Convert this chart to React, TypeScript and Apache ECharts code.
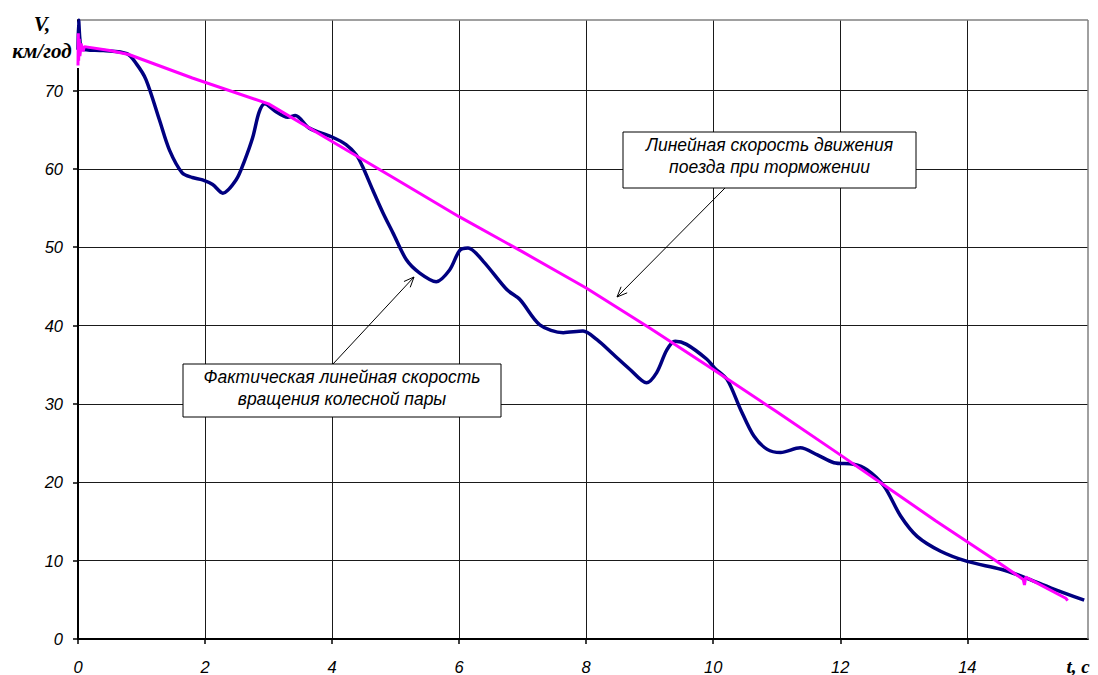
import React, { useEffect, useRef } from "react";
import * as echarts from "echarts";

const xMax = 15.9;
const yMax = 79;
const xTickValues = [0, 2, 4, 6, 8, 10, 12, 14];
const yTickValues = [0, 10, 20, 30, 40, 50, 60, 70];

// Actual linear speed of wheel set rotation (t, V)
const wheelSpeed: [number, number][] = [
  [0, 75.2], [0.01, 79], [0.03, 76.5], [0.06, 75.3], [0.4, 75.1], [0.77, 74.7],
  [0.92, 73.4], [1.07, 71.4], [1.28, 66.3], [1.44, 62.4], [1.64, 59.5], [1.8, 58.9],
  [1.96, 58.6], [2.12, 58.0], [2.28, 56.9], [2.49, 58.6], [2.62, 61.0], [2.75, 64.0],
  [2.85, 67.2], [2.94, 68.3], [3.1, 67.4], [3.3, 66.6], [3.42, 66.8], [3.64, 65.2],
  [3.99, 64.1], [4.22, 63.1], [4.38, 61.8], [4.48, 60.3], [4.64, 57.3], [4.8, 54.4],
  [4.96, 51.8], [5.17, 48.4], [5.38, 46.7], [5.64, 45.6], [5.85, 47.1], [6.01, 49.6],
  [6.14, 49.9], [6.38, 48.2], [6.75, 44.6], [6.96, 43.3], [7.27, 40.1], [7.64, 39.1],
  [7.95, 39.3], [8.17, 38.2], [8.43, 36.3], [8.69, 34.4], [8.95, 32.7], [9.11, 34.0],
  [9.27, 36.9], [9.4, 38.0], [9.58, 37.6], [9.9, 35.7], [10.02, 34.6], [10.22, 33.1],
  [10.43, 29.3], [10.64, 25.9], [10.85, 24.2], [11.06, 23.8], [11.37, 24.4], [11.64, 23.5],
  [11.9, 22.5], [12.21, 22.3], [12.42, 21.6], [12.69, 19.5], [12.95, 15.7], [13.21, 13.1],
  [13.58, 11.2], [14.0, 9.9], [14.53, 8.9], [14.89, 7.9], [15.32, 6.5], [15.84, 4.95],
];

// Linear train speed during braking (t, V)
const trainSpeed: [number, number][] = [
  [0, 73.2], [0.005, 77.3], [0.01, 73.8], [0.02, 76.6], [0.03, 74.4], [0.05, 76.0],
  [0.08, 75.0], [0.1, 75.6], [0.5, 75.1], [0.8, 74.6], [1.8, 71.6], [3, 68.3], [4, 63.5],
  [5, 58.7], [6, 53.9], [7, 49.4], [8, 44.8], [9, 39.7], [10, 34.4], [11, 29.0], [12, 23.5],
  [13, 17.9], [13.5, 15.1], [14.45, 10.0], [14.88, 7.6], [14.9, 6.9], [14.92, 7.9],
  [15.55, 5.2], [15.58, 4.9],
];

const yTitle = ["V,", "км/год"];
const xTitle = "t, c";
const note1 = ["Фактическая линейная скорость", "вращения колесной пары"];
const note2 = ["Линейная скорость движения", "поезда при торможении"];

const SANS = "'Liberation Sans', Arial, sans-serif";
const SERIF = "'Liberation Serif', 'Times New Roman', serif";

function arrow(x1: number, y1: number, x2: number, y2: number): any[] {
  const ang = Math.atan2(y2 - y1, x2 - x1);
  const len = 11;
  const spread = 0.4;
  const a1 = ang + Math.PI - spread;
  const a2 = ang + Math.PI + spread;
  return [
    { type: "line", z: 10, shape: { x1, y1, x2, y2 }, style: { stroke: "#000", lineWidth: 1 } },
    {
      type: "polyline", z: 10,
      shape: { points: [[x2 + len * Math.cos(a1), y2 + len * Math.sin(a1)], [x2, y2], [x2 + len * Math.cos(a2), y2 + len * Math.sin(a2)]] },
      style: { stroke: "#000", lineWidth: 1, fill: null },
    },
  ];
}

function noteBox(x: number, y: number, w: number, h: number, lines: string[]): any[] {
  const cx = x + w / 2;
  return [
    { type: "rect", z: 10, shape: { x, y, width: w, height: h }, style: { fill: "#fff", stroke: "#000", lineWidth: 1 } },
    ...lines.map((t, i) => ({
      type: "text", z: 11,
      style: {
        text: t, x: cx, y: y + 13 + i * 22, fill: "#000",
        fontFamily: SANS, fontSize: 17.5, fontStyle: "italic",
        textAlign: "center", textVerticalAlign: "middle",
      },
    })),
  ];
}

export default function App() {
  const ref = useRef<HTMLDivElement>(null);
  useEffect(() => {
    if (!ref.current) return;
    const chart = echarts.init(ref.current, null, { renderer: "svg" });
    const gridLeft = 78, gridTop = 20, gridRight = 10, gridBottom = 36;
    const plotRight = 1098 - gridRight;
    const plotBottom = 675 - gridBottom;
    chart.setOption({
      animation: false,
      backgroundColor: "#fff",
      grid: { left: gridLeft, right: gridRight, top: gridTop, bottom: gridBottom, show: false },
      xAxis: {
        type: "value", min: 0, max: xMax, interval: 2,
        axisLine: { show: true, lineStyle: { color: "#000", width: 2 } },
        axisTick: { show: true, length: 5, customValues: xTickValues, lineStyle: { color: "#000", width: 1.5 } },
        axisLabel: {
          customValues: xTickValues,
          formatter: (v: number) => (Math.abs(v % 2) < 1e-9 ? String(v) : ""),
          fontFamily: SANS, fontStyle: "italic", fontSize: 16.5, color: "#000", margin: 19,
        },
        splitLine: { show: true, lineStyle: { color: "#1a1a1a", width: 1 } },
      },
      yAxis: {
        type: "value", min: 0, max: yMax, interval: 10,
        axisLine: { show: true, lineStyle: { color: "#000", width: 2 } },
        axisTick: { show: true, length: 5, customValues: yTickValues, lineStyle: { color: "#000", width: 1.5 } },
        axisLabel: {
          customValues: yTickValues,
          formatter: (v: number) => (Math.abs(v % 10) < 1e-9 ? String(v) : ""),
          fontFamily: SANS, fontStyle: "italic", fontSize: 16.5, color: "#000", margin: 15,
        },
        splitLine: { show: true, lineStyle: { color: "#1a1a1a", width: 1 } },
      },
      series: [
        {
          type: "line", data: wheelSpeed, showSymbol: false, smooth: 0.3, z: 3,
          lineStyle: { color: "#000080", width: 3.5 },
        },
        {
          type: "line", data: trainSpeed, showSymbol: false, z: 4,
          lineStyle: { color: "#FF00FF", width: 3 },
        },
      ],
      graphic: [
        { type: "rect", z: 1, shape: { x: 0, y: gridTop + 1, width: gridLeft + 1.2, height: 47 }, style: { fill: "#fff" } },
        { type: "line", z: 1, shape: { x1: gridLeft, y1: gridTop, x2: plotRight, y2: gridTop }, style: { stroke: "#808080", lineWidth: 1.5 } },
        { type: "line", z: 1, shape: { x1: plotRight, y1: gridTop, x2: plotRight, y2: plotBottom }, style: { stroke: "#808080", lineWidth: 1.5 } },
        ...yTitle.map((t, i) => ({
          type: "text", z: 12,
          style: {
            text: t, x: 42, y: 24 + i * 27, fill: "#000",
            fontFamily: SERIF, fontSize: 21, fontStyle: "italic", fontWeight: "bold",
            textAlign: "center", textVerticalAlign: "middle",
          },
        })),
        {
          type: "text", z: 12,
          style: {
            text: xTitle, x: 1078, y: 666, fill: "#000",
            fontFamily: SERIF, fontSize: 19, fontStyle: "italic", fontWeight: "bold",
            textAlign: "center", textVerticalAlign: "middle",
          },
        },
        ...arrow(333, 364, 414, 277),
        ...arrow(725, 188, 617, 297),
        ...noteBox(183, 364, 318, 53, note1),
        ...noteBox(623, 132, 293, 56, note2),
      ],
    });
    return () => chart.dispose();
  }, []);
  return <div ref={ref} style={{ position: "fixed", left: 0, top: 0, width: 1098, height: 675 }} />;
}
